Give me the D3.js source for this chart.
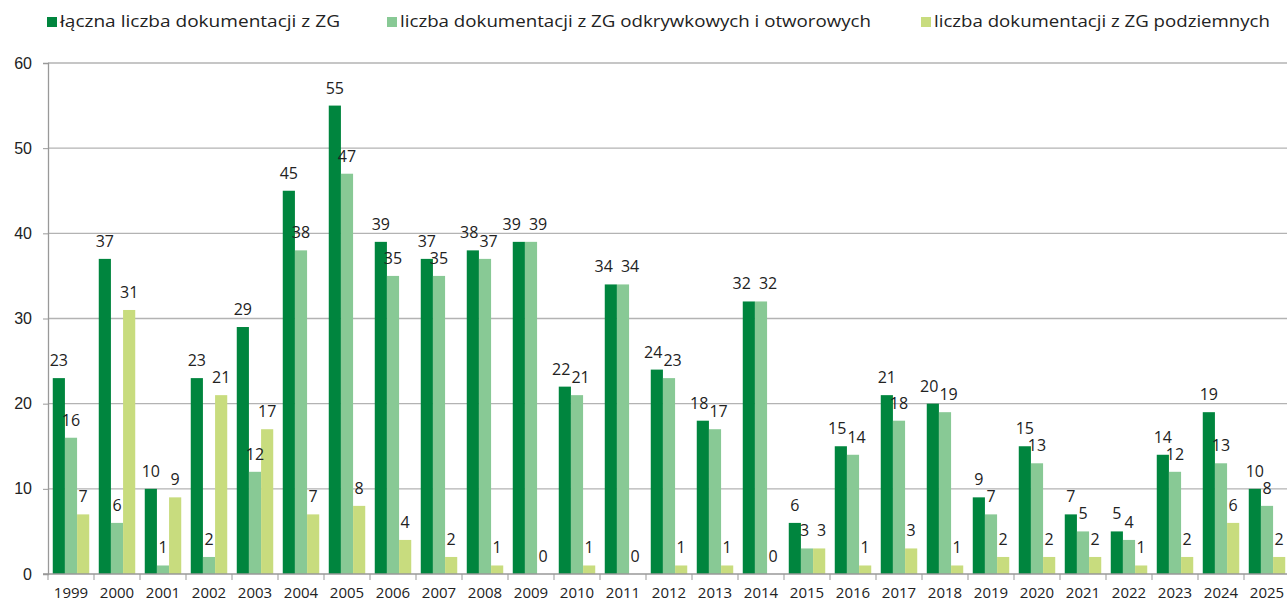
<!DOCTYPE html>
<html lang="pl">
<head>
<meta charset="UTF-8">
<title>Dokumentacje ZG</title>
<style>
  body { margin: 0; background: #fff; }
  svg { display: block; font-family: "Open Sans", "DejaVu Sans", sans-serif; }
</style>
</head>
<body>
<script src="https://cdnjs.cloudflare.com/ajax/libs/d3/7.8.5/d3.min.js"></script>
<script>
'use strict';
// dane
const years = ['1999', '2000', '2001', '2002', '2003', '2004', '2005', '2006', '2007', '2008', '2009', '2010', '2011', '2012',
  '2013', '2014', '2015', '2016', '2017', '2018', '2019', '2020', '2021', '2022', '2023', '2024', '2025'];
const total = [23, 37, 10, 23, 29, 45, 55, 39, 37, 38, 39, 22, 34, 24, 18, 32, 6, 15, 21, 20, 9, 15, 7, 5, 14, 19, 10];
const openPit = [16, 6, 1, 2, 12, 38, 47, 35, 35, 37, 39, 21, 34, 23, 17, 32, 3, 14, 18, 19, 7, 13, 5, 4, 12, 13, 8];
const underground = [7, 31, 9, 21, 17, 7, 8, 4, 2, 1, 0, 1, 0, 1, 1, 0, 3, 1, 3, 1, 2, 2, 2, 1, 2, 6, 2];
const seriesNames = ['łączna liczba dokumentacji z ZG', 'liczba dokumentacji z ZG odkrywkowych i otworowych', 'liczba dokumentacji z ZG podziemnych'];
const yTicks = [0, 10, 20, 30, 40, 50, 60];

const colors = ['#00853e', '#88c995', '#c8dc7e'];
const series = [total, openPit, underground];

const W = 1287, H = 603;
const svg = d3.select('body').append('svg').attr('width', W).attr('height', H);

const x = d3.scaleBand().domain(years).range([48, 1290]).paddingInner(0.207).paddingOuter(0.1035);
const xs = d3.scaleBand().domain([0, 1, 2]).range([0, x.bandwidth()]);
const y = d3.scaleLinear().domain([0, 60]).range([574, 63]);

// siatka
svg.append('g')
  .selectAll('line')
  .data(yTicks.slice(1))
  .join('line')
    .attr('x1', 48).attr('x2', W)
    .attr('y1', d => y(d)).attr('y2', d => y(d))
    .attr('stroke', '#b3b3b3').attr('stroke-width', 1.3);

// słupki
series.forEach((vals, s) => {
  svg.append('g')
    .selectAll('rect')
    .data(vals)
    .join('rect')
      .attr('x', (d, i) => x(years[i]) + xs(s))
      .attr('y', d => y(d))
      .attr('width', xs.bandwidth())
      .attr('height', d => y(0) - y(d))
      .attr('fill', colors[s]);
});

// etykiety danych (rozsuwane gdy nachodzą na siebie)
const lg0 = svg.append('g');
years.forEach((yr, i) => {
  const row = series.map((vals, s) => {
    const v = vals[i];
    const t = lg0.append('text')
      .attr('y', y(v) - 12)
      .attr('text-anchor', 'middle')
      .attr('font-size', 16)
      .attr('fill', '#222')
      .text(v);
    return { t, cx: x(yr) + xs(s) + xs.bandwidth() / 2, by: y(v) - 12, w: t.node().getComputedTextLength() };
  });
  for (let k = 0; k < 2; k++) {
    const a = row[k], b = row[k + 1];
    const dy = Math.abs(a.by - b.by);
    if (dy >= 16) continue;
    const gap = Math.max(1, 8 * (1 - dy / 9));
    const need = (a.w + b.w) / 2 + gap;
    const sep = b.cx - a.cx;
    if (sep < need) {
      const d = (need - sep) / 2;
      a.cx -= d; b.cx += d;
    }
  }
  row.forEach(r => r.t.attr('x', r.cx));
});

// oś Y
const yAxis = svg.append('g')
  .attr('transform', 'translate(48,0)')
  .call(d3.axisLeft(y).tickValues(yTicks).tickSize(5).tickPadding(11));
yAxis.select('.domain').attr('stroke', '#999').attr('stroke-width', 1.3);
yAxis.selectAll('.tick line').attr('stroke', '#999');
yAxis.selectAll('text').attr('font-size', 16).attr('fill', '#222').attr('font-family', 'inherit');

// oś X
const step = x.step();
const xa = svg.append('g');
xa.append('line')
  .attr('x1', 43).attr('x2', W)
  .attr('y1', y(0)).attr('y2', y(0))
  .attr('stroke', '#999').attr('stroke-width', 1.3);
xa.selectAll('line.t')
  .data(years)
  .join('line')
    .attr('class', 't')
    .attr('x1', d => x(d) + x.bandwidth() / 2 - step / 2)
    .attr('x2', d => x(d) + x.bandwidth() / 2 - step / 2)
    .attr('y1', y(0)).attr('y2', y(0) + 6)
    .attr('stroke', '#999');
xa.selectAll('text')
  .data(years)
  .join('text')
    .attr('x', d => x(d) + x.bandwidth() / 2)
    .attr('y', 598)
    .attr('text-anchor', 'middle')
    .attr('font-size', 15)
    .attr('fill', '#222')
    .text(d => d);

// legenda
const legendX = [47, 387, 921];
const legendW = [280, 471, 336];
const lg = svg.append('g');
seriesNames.forEach((name, i) => {
  lg.append('rect').attr('x', legendX[i]).attr('y', 17).attr('width', 10).attr('height', 10).attr('fill', colors[i]);
  lg.append('text').attr('x', legendX[i] + 13).attr('y', 27).attr('font-size', 17).attr('fill', '#222')
    .attr('textLength', legendW[i]).attr('lengthAdjust', 'spacingAndGlyphs')
    .text(name);
});
</script>
</body>
</html>
